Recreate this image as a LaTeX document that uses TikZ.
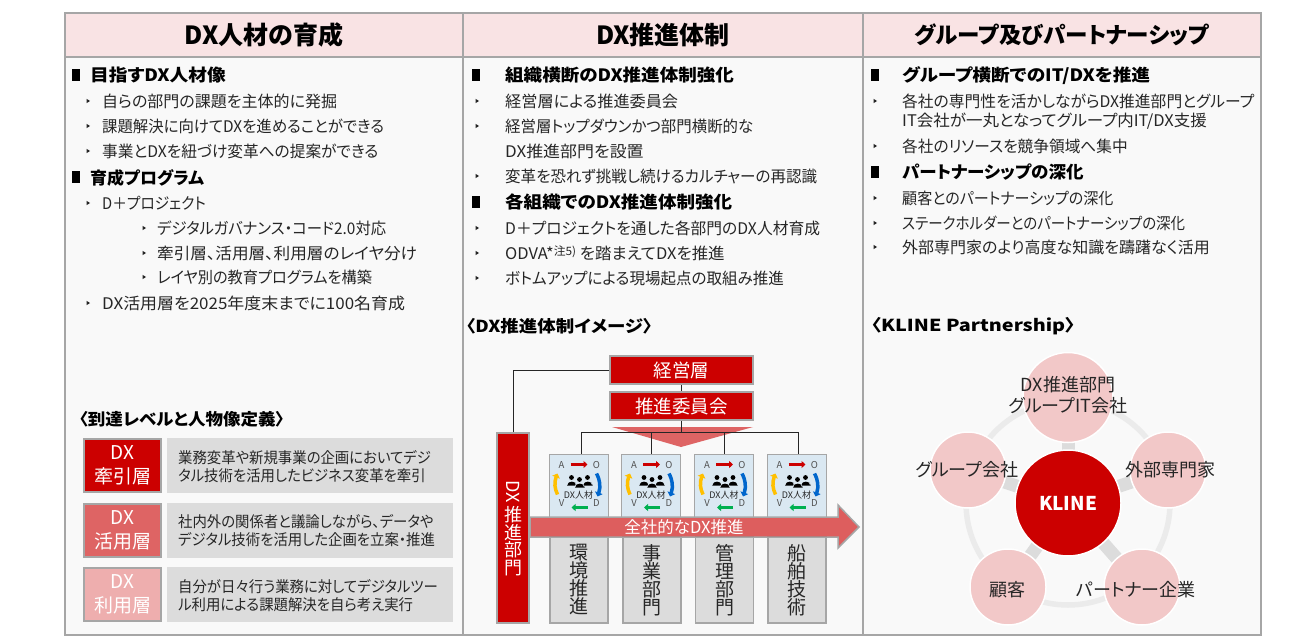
\documentclass[tikz,border=0pt]{standalone}
\usepackage{fontspec}
\setmainfont{Noto Sans CJK JP}[RawFeature=+palt]
\usetikzlibrary{arrows.meta,bending}
\definecolor{bd}{HTML}{A6A6A6}
\definecolor{hdr}{HTML}{F9E3E4}
\definecolor{pan}{HTML}{F9F9F9}
\definecolor{krd}{HTML}{CC0000}
\definecolor{mrd}{HTML}{DE6464}
\definecolor{lrd}{HTML}{EEAEAE}
\definecolor{gy}{HTML}{DCDCDC}
\definecolor{card}{HTML}{DAE8F2}
\definecolor{pk}{HTML}{F2C8C8}
\definecolor{txt}{HTML}{262626}
\definecolor{cyy}{HTML}{FFC000}
\definecolor{cyb}{HTML}{0066CC}
\definecolor{cyg}{HTML}{00B050}
\newcommand\fs[1]{\fontsize{#1}{#1}\selectfont\lineskiplimit=-100pt\relax}
\newcommand\sx[2]{\scalebox{#1}[1]{#2}}
\tikzset{
 hdbox/.style={draw=bd,line width=1.5pt,fill=hdr,inner sep=0pt,font=\fs{25}\bfseries,text=black},
 panbox/.style={draw=bd,line width=1.5pt,fill=pan,inner sep=0pt},
 bodytxt/.style={anchor=west,inner sep=0pt,font=\fs{16},text=txt},
 headtxt/.style={anchor=west,inner sep=0pt,font=\fs{17}\bfseries,text=black},
 subttl/.style={anchor=west,inner sep=0pt,font=\fs{16.5}\bfseries,text=black},
 squ/.style={fill=black,inner sep=0pt,minimum width=8pt,minimum height=12pt},
 lvl/.style={draw=bd,line width=2pt,inner sep=0pt,align=center,text=white,font=\fs{19},minimum width=77pt,minimum height=53pt},
 desc/.style={fill=gy,inner sep=0pt,minimum width=286pt,minimum height=55pt},
 desctxt/.style={anchor=west,inner sep=0pt,align=left,font=\fs{15.3},text=txt,xscale=.94,transform shape},
 rbox/.style={draw=bd,line width=2pt,fill=krd,inner sep=0pt,text=white,font=\fs{18.5}},
 gbox/.style={draw=bd,line width=1.5pt,fill=gy,inner sep=0pt,minimum width=58pt,minimum height=86pt,align=center,font=\fs{19},text=txt},
 cardbox/.style={draw=bd,line width=1pt,fill=card,inner sep=0pt,minimum width=59pt,minimum height=63pt},
 conn/.style={draw=txt,line width=.9pt},
 spoke/.style={draw=gy,line width=13pt},
 outer/.style={circle,draw=white,line width=1.5pt,fill=pk,inner sep=0pt,minimum size=76pt},
 ptxt/.style={inner sep=0pt,align=center,font=\fs{18},text=txt},
 cyc/.pic={
  \foreach \n/\a/\b in {a/13/12,o/48/12,v/13/50,d/48/50}{
   \node[inner sep=0pt,font=\fs{9.5},text=txt!80] (\n) at (\a,\b) {\MakeUppercase{\n}};}
  \draw[krd,line width=3.5pt,-{Triangle[length=4pt,width=7pt]}] (22,11) -- (39,11);
  \draw[cyg,line width=3.5pt,-{Triangle[length=4pt,width=7pt]}] (39,54) -- (23,54);
  \draw[cyy,line width=3.5pt,-{Triangle[length=4pt,width=8pt,flex]}] (9,41) to[bend left=25] (9,20);
  \draw[cyb,line width=3.5pt,-{Triangle[length=4pt,width=8pt,flex]}] (48,20) to[bend left=25] (49,43);
  \foreach \px/\py in {23/24,39/24,31/26}{
   \fill[black] (\px,\py) circle (2.4pt);
   \fill[black,draw=card,line width=.4pt] (\px-5,\py+8) .. controls (\px-5,\py+2) and (\px+5,\py+2) .. (\px+5,\py+8) -- cycle;}
  \node[inner sep=0pt,font=\fs{9},text=txt] (t) at (30,42) {DX人材};
 }
}
\newcommand\hl[5]{\node[squ] (#1s) at (#2,#4) {}; \node[headtxt] (#1) at (#3,#4+.5) {#5};}
\newcommand\bl[5]{\fill[txt] (#2-1.5,#4-2.2) -- (#2+2,#4) -- (#2-1.5,#4+2.2) -- cycle; \node[bodytxt] (#1) at (#3,#4) {#5};}
\begin{document}
\begin{tikzpicture}[x=1pt,y=-1pt]
\useasboundingbox (0,0) rectangle (1300,639);
\fill[white] (0,0) rectangle (1300,639);
% panels
\node[panbox,minimum width=398pt,minimum height=578pt] (p1) at (264,346) {};
\node[panbox,minimum width=400pt,minimum height=578pt] (p2) at (663,346) {};
\node[panbox,minimum width=398pt,minimum height=578pt] (p3) at (1062,346) {};
\node[hdbox,minimum width=398pt,minimum height=44pt] (h1) at (264,35) {DX人材の育成};
\node[hdbox,minimum width=400pt,minimum height=44pt] (h2) at (663,35) {DX推進体制};
\node[hdbox,minimum width=398pt,minimum height=44pt,font=\fs{22.5}\bfseries] (h3) at (1062,35) {グループ及びパートナーシップ};
% left text
\hl{la}{76}{90}{75}{\sx{1.1}{目指すDX人材像}}
\bl{lb}{88}{102}{101}{自らの部門の課題を主体的に発掘}
\bl{lc}{88}{102}{126}{\sx{.962}{課題解決に向けてDXを進めることができる}}
\bl{ld}{88}{102}{151}{\sx{.98}{事業とDXを紐づけ変革への提案ができる}}
\hl{le}{76}{90}{177}{育成プログラム}
\bl{lf}{88}{102}{203}{\sx{.92}{D＋プロジェクト}}
\bl{lg}{144}{157}{228}{\sx{.96}{デジタルガバナンス・コード2.0対応}}
\bl{lh}{144}{157}{253}{\sx{1.04}{牽引層、活用層、利用層のレイヤ分け}}
\bl{li}{144}{157}{277}{\sx{.95}{レイヤ別の教育プログラムを構築}}
\bl{lj}{88}{102}{303}{\sx{1.06}{DX活用層を2025年度末までに100名育成}}
\node[subttl] (lt) at (79,419) {\sx{1.06}{〈到達レベルと人物像定義〉}};
% levels
\node[lvl,fill=krd] (l1) at (122.5,465.5) {DX\\[5pt]牽引層};
\node[lvl,fill=mrd] (l2) at (122.5,530.5) {DX\\[5pt]活用層};
\node[lvl,fill=lrd] (l3) at (122.5,594.5) {DX\\[5pt]利用層};
\node[desc] (d1) at (310,465.5) {};
\node[desc] (d2) at (310,530) {};
\node[desc] (d3) at (310,594) {};
\node[desctxt] (d1t) at (178,466.5) {業務変革や新規事業の企画においてデジ\\[2.7pt]タル技術を活用したビジネス変革を牽引};
\node[desctxt] (d2t) at (178,530.5) {社内外の関係者と議論しながら、データや\\[2.7pt]デジタル技術を活用した企画を立案・推進};
\node[desctxt] (d3t) at (178,595.5) {自分が日々行う業務に対してデジタルツー\\[2.7pt]ル利用による課題解決を自ら考え実行};
% middle text
\hl{ma}{476}{505}{75}{\sx{1.09}{組織横断のDX推進体制強化}}
\bl{mb}{477}{505}{101}{\sx{1.01}{経営層による推進委員会}}
\bl{mc}{477}{505}{126}{\sx{.965}{経営層トップダウンかつ部門横断的な}}
\node[bodytxt] (mc2) at (505,151) {\sx{1.06}{DX推進部門を設置}};
\bl{md}{477}{505}{176}{\sx{.97}{変革を恐れず挑戦し続けるカルチャーの再認識}}
\hl{me}{476}{505}{202}{\sx{1.09}{各組織でのDX推進体制強化}}
\bl{mf}{477}{505}{228}{\sx{.985}{D＋プロジェクトを通した各部門のDX人材育成}}
\bl{mg}{477}{505}{253}{\sx{1.03}{ODVA*{\fs{11.5}\raisebox{3.5pt}{注5)}} を踏まえてDXを推進}}
\bl{mh}{477}{505}{278}{\sx{.97}{ボトムアップによる現場起点の取組み推進}}
\node[subttl] (mt) at (466,326) {\sx{1.12}{〈DX推進体制イメージ〉}};
% org chart
\fill[mrd] (612,427) -- (753,427) -- (681,447) -- cycle;
\node[rbox,minimum width=143pt,minimum height=28pt] (mgmt) at (681.5,370) {経営層};
\node[rbox,minimum width=143pt,minimum height=28pt] (cmt) at (681.5,406) {推進委員会};
\node[rbox,minimum width=32pt,minimum height=190pt,align=center,font=\fs{18}] (dept) at (513,528) {\rotatebox{-90}{DX}\\[23pt]推\\[-.5pt]進\\[-.5pt]部\\[-.5pt]門};
\node[cardbox] (c1) at (578.5,485.5) {};
\node[cardbox] (c2) at (651,485.5) {};
\node[cardbox] (c3) at (724,485.5) {};
\node[cardbox] (c4) at (796.5,485.5) {};
\pic (k1) at (c1.north west) {cyc};
\pic (k2) at (c2.north west) {cyc};
\pic (k3) at (c3.north west) {cyc};
\pic (k4) at (c4.north west) {cyc};
\coordinate (bus) at (681.5,432);
\draw[conn] (mgmt.west) -| (dept.north);
\draw[conn] (mgmt.south) -- (cmt.north);
\draw[conn] (cmt.south) -- (bus);
\draw[conn] (bus) -| ([xshift=2.5pt]c1.north);
\draw[conn] (bus) -| (c2.north);
\draw[conn] (bus) -| (c3.north);
\draw[conn] (bus) -| ([xshift=1.5pt]c4.north);
\node[gbox] (g1) at (579,580) {環\\[-1pt]境\\[-1pt]推\\[-1pt]進};
\node[gbox] (g2) at (652,580) {事\\[-1pt]業\\[-1pt]部\\[-1pt]門};
\node[gbox] (g3) at (724.5,580) {管\\[-1pt]理\\[-1pt]部\\[-1pt]門};
\node[gbox] (g4) at (797,580) {船\\[-1pt]舶\\[-1pt]技\\[-1pt]術};
\filldraw[draw=bd,line width=1.5pt,fill=krd,fill opacity=.62] (530,517) -- (838,517) -- (838,505) -- (859,527) -- (838,548) -- (838,537) -- (530,537) -- cycle;
\node[inner sep=0pt,font=\fs{16.5},text=white] (arrt) at (684,527) {全社的なDX推進};
% right text
\hl{ra}{875}{902}{75}{\sx{1.1}{グループ横断でのIT/DXを推進}}
\bl{rb}{875}{902}{101}{\sx{.985}{各社の専門性を活かしながらDX推進部門とグループ}}
\node[bodytxt] (rb2) at (902,121) {\sx{1.03}{IT会社が一丸となってグループ内IT/DX支援}};
\bl{rc}{875}{902}{146}{\sx{.98}{各社のリソースを競争領域へ集中}}
\hl{rd}{875}{902}{172}{\sx{1.03}{パートナーシップの深化}}
\bl{re}{875}{902}{198}{\sx{.94}{顧客とのパートナーシップの深化}}
\bl{rf}{875}{902}{223}{\sx{.905}{ステークホルダーとのパートナーシップの深化}}
\bl{rg}{875}{902}{247}{外部専門家のより高度な知識を躊躇なく活用}
\node[subttl] (rt) at (871,326) {\sx{1.2}{〈KLINE Partnership〉}};
% partnership
\coordinate (kc) at (1068,503);
\coordinate (q1) at (1068,397.5);
\coordinate (q2) at (1168,470);
\coordinate (q3) at (1142,587);
\coordinate (q4) at (1008,587);
\coordinate (q5) at (968,470);
\draw[draw=black!8,line width=5.5pt] (kc) circle (102pt);
\foreach \n in {q1,q2,q3,q4,q5}{\draw[spoke] (kc) -- (\n);}
\node[outer,minimum size=90pt] (n1) at (q1) {};
\node[outer] (n2) at (q2) {};
\node[outer] (n3) at (q3) {};
\node[outer] (n4) at (q4) {};
\node[outer] (n5) at (q5) {};
\node[circle,draw=white,line width=1.5pt,fill=krd,inner sep=0pt,minimum size=106pt,text=white,font=\fs{19}\bfseries] (kl) at (kc) {KLINE};
\node[ptxt] (n1t) at (1068,395.5) {DX推進部門\\[3pt]グループIT会社};
\node[ptxt] (n2t) at (1170,470) {外部専門家};
\node[ptxt] (n3t) at (1136,590) {パートナー企業};
\node[ptxt] (n4t) at (1007,590) {顧客};
\node[ptxt] (n5t) at (967,470) {グループ会社};
\end{tikzpicture}
\end{document}
